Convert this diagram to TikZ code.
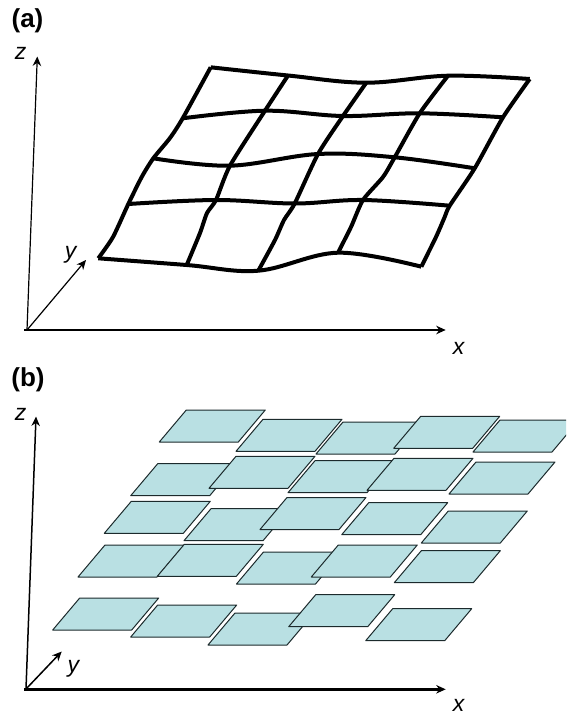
\documentclass[tikz,border=0pt]{standalone}
\usepackage{fontspec}
\setmainfont{Liberation Sans}
\usetikzlibrary{arrows.meta}
\definecolor{cellblue}{HTML}{B9E0E3}
\definecolor{cellline}{HTML}{1c2a2c}
\tikzset{
  axis/.style={-{Stealth[length=9.5pt,width=8.5pt]}, black},
  axislabel/.style={font=\fontsize{23}{23}\selectfont\itshape, inner sep=0pt},
  panellabel/.style={font=\fontsize{26}{26}\selectfont\bfseries, inner sep=0pt},
  gridline/.style={line width=4pt, black, line cap=butt, line join=miter},
  cell/.style={fill=cellblue, draw=cellline, line width=1pt, line join=round},
}

\begin{document}
\begin{tikzpicture}[x=1pt, y=-1pt]
    \clip (0,0) rectangle (566,715);
    %% --- Panel (a): wavy mesh ---
    \node[panellabel] (labela) at (27.5,20.5) {(a)};
    \coordinate (oa) at (27,330);
    \coordinate (za) at (37.3,56.5);
    \coordinate (ya) at (86,260);
    \coordinate (xa) at (445.7,330);
    \draw[axis, line width=1.2pt] (oa) -- (za);
    \draw[axis, line width=1.2pt] (oa) -- (ya);
    \draw[axis, line width=1.6pt] (24,330) -- (xa);
    \node[axislabel] (zlaba) at (20.7,53) {z};
    \node[axislabel] (ylaba) at (70.7,255) {y};
    \node[axislabel] (xlaba) at (458.7,348) {x};
    %% rows of the mesh
    \draw[gridline] plot[smooth, tension=0.6] coordinates {(210.7,67.3) (288,75.5) (366.3,82.7) (448,75.7) (529.7,79)};
    \draw[gridline] plot[smooth, tension=0.6] coordinates {(182.7,118.3) (265,110.7) (343,116) (419.7,113.3) (503,117.3)};
    \draw[gridline] plot[smooth, tension=0.6] coordinates {(153.3,158.3) (230,165.7) (318,154) (394.7,157.3) (474.7,168.3)};
    \draw[gridline] plot[smooth, tension=0.6] coordinates {(128.3,204) (216,200) (294.7,203.5) (363,200) (449.7,205.7)};
    \draw[gridline] plot[smooth, tension=0.6] coordinates {(98.3,258.3) (186.7,265) (258.3,270.7) (338,252.7) (421.3,266.7)};
    %% columns of the mesh
    \draw[gridline] plot[smooth, tension=0.4] coordinates {(210.7,67.3) (182.7,118.3) (170,138) (153.3,158.3) (141.7,177) (128.3,204) (113,237) (98.3,258.3)};
    \draw[gridline] plot[smooth, tension=0.4] coordinates {(288,75.5) (265,110.7) (230,165.7) (216,200) (207,213) (200,233) (186.7,265)};
    \draw[gridline] plot[smooth, tension=0.4] coordinates {(366.3,82.7) (343,116) (318,154) (294.7,203.5) (284,220) (275,240) (258.3,270.7)};
    \draw[gridline] plot[smooth, tension=0.4] coordinates {(448,75.7) (419.7,113.3) (394.7,157.3) (383,177) (363,200) (351,227) (338,252.7)};
    \draw[gridline] plot[smooth, tension=0.4] coordinates {(529.7,79) (503,117.3) (474.7,168.3) (449.7,205.7) (444.7,217) (436,237) (421.3,266.7)};
    %% --- Panel (b): separate patches ---
    \node[panellabel] (labelb) at (28,380) {(b)};
    \coordinate (ob) at (26,689);
    \coordinate (zb) at (36,416.5);
    \coordinate (yb) at (61.7,651.5);
    \coordinate (xb) at (445.7,689.3);
    %% lower left corner of each patch
    \foreach \x/\y in {159.3/442, 236/451.3, 316/454, 393.7/448.3, 473/452,
                       130.7/495.7, 209/488.3, 288/492.7, 367/490.3, 449/494,
                       104.3/533.3, 184/540.7, 260/529.5, 341.7/534.7, 421.3/543,
                       78/577, 157.3/576.3, 236.5/584, 311.3/577, 394.3/582.7,
                       52.7/630, 130.7/637, 208/645, 288.7/626.7, 365.7/640.7} {
      \filldraw[cell] (\x,\y) -- ++(79,0) -- ++(27,-32) -- ++(-79,0) -- cycle;
    }
    \draw[axis, line width=1.5pt] (ob) -- (zb);
    \draw[axis, line width=1.5pt] (ob) -- (yb);
    \draw[axis, line width=2.6pt] (24,689.3) -- (xb);
    \node[axislabel] (zlabb) at (20.7,414) {z};
    \node[axislabel] (ylabb) at (73.3,669) {y};
    \node[axislabel] (xlabb) at (458.7,705) {x};
\end{tikzpicture}
\end{document}
